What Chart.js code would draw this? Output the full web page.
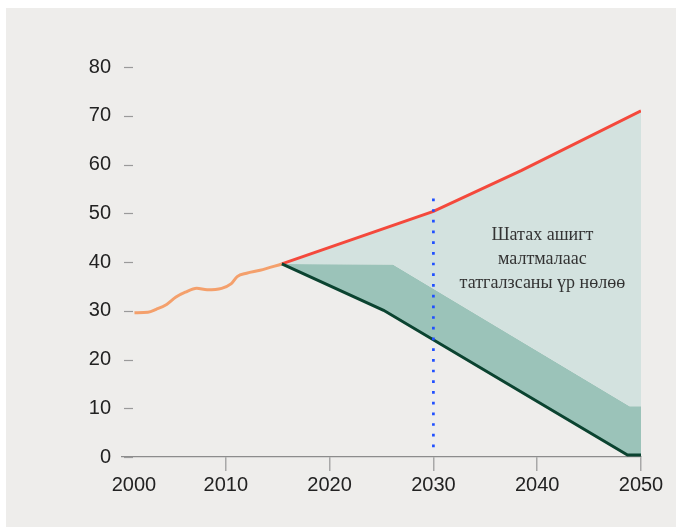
<!DOCTYPE html>
<html>
<head>
<meta charset="utf-8">
<script src="https://cdn.jsdelivr.net/npm/chart.js@4/dist/chart.umd.min.js"></script>
<style>
  html, body { margin: 0; padding: 0; background: #ffffff; width: 676px; height: 527px; overflow: hidden; }
  #bg { position: absolute; left: 6px; top: 8px; right: 0; bottom: 0; background: #eeedeb; }
  #wrap { position: absolute; left: 0; top: 0; width: 676px; height: 527px; }
</style>
</head>
<body>
<div id="bg"></div>
<div id="wrap"><canvas id="c" width="676" height="527"></canvas></div>
<script>
// ---- data ----
const xTicks = [2000, 2010, 2020, 2030, 2040, 2050];
const yTicks = [0, 10, 20, 30, 40, 50, 60, 70, 80];

const histYears  = [2001.2, 2002.5, 2003.3, 2004.3, 2005.2, 2006.1, 2007.2, 2008.2, 2009.6, 2010.5, 2011.1, 2012.0, 2013.3, 2015.4];
const histValues = [29.6, 29.7, 30.3, 31.3, 32.8, 33.8, 34.6, 34.3, 34.6, 35.5, 37.0, 37.7, 38.3, 39.6];

const highYears  = [2015.4, 2030, 2038.5, 2050];
const highValues = [39.6, 50.4, 58.8, 71.0];

const bandYears  = [2015.4, 2026.1, 2048.9, 2050];
const bandValues = [39.6, 39.5, 10.4, 10.4];

const lowYears   = [2015.4, 2025.2, 2048.7, 2050];
const lowValues  = [39.6, 30.1, 0.4, 0.4];

const markerYear  = 2030;
const markerRange = [2, 53.7];

const noteLines = ["Шатах ашигт", "малтмалаас", "татгалзсаны үр нөлөө"];
const firstLabelYear = 2001.15; // where the "2000" label sits in the reference

// ---- helpers ----
const pts = (xs, ys) => xs.map((x, i) => ({ x: x, y: ys[i] }));
const TICK_FONT = '"Liberation Sans", Arial, sans-serif';
const TICK_SIZE = 20;
const X_TICK_LEN = 14;
const X_PAD = 2;

const extras = {
  id: 'extras',
  afterDraw(chart) {
    const ctx = chart.ctx;
    const xs = chart.scales.x, ys = chart.scales.y;
    ctx.save();
    // y tick marks
    ctx.strokeStyle = '#9a9a9a';
    ctx.lineWidth = 1.2;
    yTicks.forEach(v => {
      const y = Math.round(ys.getPixelForValue(v)) + 0.5;
      ctx.beginPath();
      ctx.moveTo(xs.left + 2, y);
      ctx.lineTo(xs.left + 11, y);
      ctx.stroke();
    });
    // first x label
    ctx.fillStyle = '#222';
    ctx.font = TICK_SIZE + 'px ' + TICK_FONT;
    ctx.textAlign = 'center';
    ctx.textBaseline = 'middle';
    ctx.fillText(String(xTicks[0]), xs.getPixelForValue(firstLabelYear), xs.top + X_TICK_LEN + X_PAD + TICK_SIZE * 1.2 / 2);
    // annotation
    ctx.fillStyle = '#333';
    ctx.font = '18px "Liberation Serif", "Times New Roman", serif';
    ctx.textAlign = 'center';
    ctx.textBaseline = 'middle';
    const cx = xs.getPixelForValue(2040.5);
    const y0 = ys.getPixelForValue(45.4);
    noteLines.forEach((t, i) => ctx.fillText(t, cx, y0 + i * 24));
    ctx.restore();
  }
};

new Chart(document.getElementById('c'), {
  type: 'line',
  data: {
    datasets: [
      { // 0 historical
        data: pts(histYears, histValues),
        borderColor: '#f4a06c', borderWidth: 3, pointRadius: 0,
        cubicInterpolationMode: 'monotone', fill: false, order: 3
      },
      { // 1 low pathway line
        data: pts(lowYears, lowValues),
        borderColor: '#0b4330', borderWidth: 3, pointRadius: 0, fill: false, order: 1
      },
      { // 2 band top
        data: pts(bandYears, bandValues),
        borderColor: 'rgba(0,0,0,0)', borderWidth: 0, pointRadius: 0,
        fill: 1, backgroundColor: '#9bc3b9', order: 4
      },
      { // 3 high pathway
        data: pts(highYears, highValues),
        borderColor: '#f4493c', borderWidth: 3, pointRadius: 0,
        fill: 2, backgroundColor: '#d3e2df', order: 2
      },
      { // 4 marker at 2030
        data: [{ x: markerYear, y: markerRange[0] }, { x: markerYear, y: markerRange[1] }],
        borderColor: '#1f4fff', borderWidth: 2.7, borderDash: [2.7, 8], borderCapStyle: 'butt',
        pointRadius: 0, fill: false, order: 0
      }
    ]
  },
  options: {
    responsive: false,
    animation: false,
    events: [],
    layout: { padding: { left: 62, top: 67, right: 35, bottom: 20 } },
    plugins: {
      legend: { display: false },
      tooltip: { enabled: false },
      filler: { drawTime: 'beforeDatasetsDraw' }
    },
    scales: {
      x: {
        type: 'linear', min: 2000, max: 2050,
        afterFit(s) { s.height = 50; },
        afterBuildTicks(s) { s.ticks = xTicks.map(v => ({ value: v })); },
        border: { display: true, color: '#8c8c8c', width: 1.2 },
        grid: {
          drawOnChartArea: false, drawTicks: true, tickLength: X_TICK_LEN,
          color: (c) => (c.tick && c.tick.value === xTicks[0]) ? 'rgba(0,0,0,0)' : '#a8a8a8',
          lineWidth: 1.5
        },
        ticks: {
          padding: X_PAD, color: '#222', maxRotation: 0, autoSkip: false,
          font: { family: TICK_FONT, size: TICK_SIZE },
          callback: (v) => v === xTicks[0] ? '' : String(v)
        }
      },
      y: {
        type: 'linear', min: 0, max: 80,
        afterFit(s) { s.width = 60; },
        afterBuildTicks(s) { s.ticks = yTicks.map(v => ({ value: v })); },
        border: { display: false },
        grid: { display: false, drawTicks: false, tickLength: 0 },
        ticks: {
          padding: 11, color: '#222',
          font: { family: TICK_FONT, size: TICK_SIZE },
          callback: (v) => String(v)
        }
      }
    }
  },
  plugins: [extras]
});
</script>
</body>
</html>
